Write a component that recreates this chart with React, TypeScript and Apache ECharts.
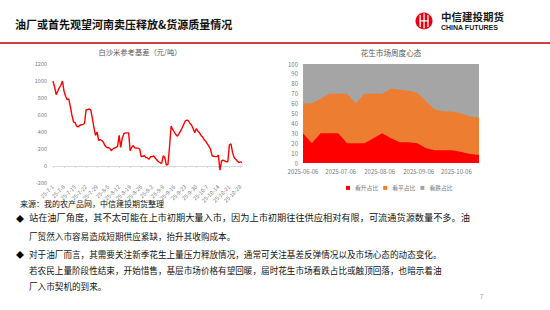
import React, { useEffect, useRef } from "react";
import * as echarts from "echarts";

const FONT = '"Noto Sans CJK SC", "Noto Sans", sans-serif';

// 白沙米参考基差（元/吨）, daily from 2025-07-01
const basisStartYear = 2025;
const basisStartMonth = 7;
const basisStartDay = 1;
const basisValues: number[] = [
  1000, 930, 840, 880, 920, 950, 1000, 880, 820, 780,
  790, 700, 600, 520, 510, 470, 460, 480, 485, 490,
  500, 660, 665, 670, 660, 560, 450, 360, 400, 300,
  310, 300, 280, 240, 220, 215, 210, 180, 200, 210,
  220, 230, 360, 220, 330, 380, 390, 390, 390, 180,
  220, 240, 210, 210, 210, 200, 110, 115, 120, 100,
  95, 80, 110, 110, 120, 90, 70, 50, 40, 30,
  120, 100, 10, 20, 230, 470, 430, 400, 370, 350,
  380, 410, 450, 490, 530, 540, 530, 500, 480, 440,
  390, 440, 410, 390, 360, 340, 310, 290, 260, 230,
  200, 120, 115, 110, 110, 130, -50, 60, 70, 60,
  50, 50, 250, 260, 160, 100, 80, 60, 40, 50,
  40,
];
const basisYMin = -200;
const basisYMax = 1200;
const basisYStep = 200;

// 花生市场周度心态 (weekly)
const moodDates: string[] = [
  "2025-06-06", "2025-06-13", "2025-06-20", "2025-06-27", "2025-07-04",
  "2025-07-11", "2025-07-18", "2025-07-25", "2025-08-01", "2025-08-08",
  "2025-08-15", "2025-08-22", "2025-08-29", "2025-09-05", "2025-09-12",
  "2025-09-19", "2025-09-26", "2025-10-03", "2025-10-10", "2025-10-17",
  "2025-10-24",
];
const moodUp: number[] = [30, 20, 30, 30, 30, 20, 20, 20, 25, 30, 25, 21, 21, 20, 15, 13, 13, 13, 11, 9, 8];
const moodFlat: number[] = [30, 40, 35, 40, 40, 50, 40, 50, 45, 40, 50, 53, 52, 51, 47, 41, 39, 39, 39, 38, 38];
const moodDown: number[] = [40, 40, 35, 30, 30, 30, 40, 30, 30, 30, 25, 26, 27, 29, 38, 46, 48, 48, 50, 53, 54];
const moodTickDates: string[] = ["2025-06-06", "2025-07-06", "2025-08-06", "2025-09-06", "2025-10-06"];
const moodNames: string[] = ["看升占比", "看平占比", "看跌占比"];
const moodColors: string[] = ["#FF0000", "#ED7D31", "#A5A5A5"];

const pageTitle = "油厂或首先观望河南卖压释放&货源质量情况";
const sourceText = "来源：我的农产品网，中信建投期货整理";
const bodyLines: string[] = [
  "站在油厂角度，其不太可能在上市初期大量入市，因为上市初期往往供应相对有限，可流通货源数量不多。油",
  "厂贸然入市容易造成短期供应紧缺，抬升其收购成本。",
  "对于油厂而言，其需要关注新季花生上量压力释放情况，通常可关注基差反弹情况以及市场心态的动态变化。",
  "若农民上量阶段性结束，开始惜售，基层市场价格有望回暖，届时花生市场看跌占比或触顶回落，也暗示着油",
  "厂入市契机的到来。",
];

function ts(d: string): number {
  const [y, m, day] = d.split("-").map(Number);
  return new Date(y, m - 1, day).getTime();
}
function fmt(v: number): string {
  const d = new Date(v);
  const p = (n: number) => (n < 10 ? "0" + n : "" + n);
  return `${d.getFullYear()}-${p(d.getMonth() + 1)}-${p(d.getDate())}`;
}

const basisLabels = basisValues.map((_, i) => {
  const d = new Date(basisStartYear, basisStartMonth - 1, basisStartDay + i);
  return `${d.getFullYear() % 100}-${d.getMonth() + 1}-${d.getDate()}`;
});

// cumulative layers of the 100% stacked area (bottom → top)
const moodLayers = [moodUp, moodFlat, moodDown];
const moodCumulative = moodLayers.map((_, k) =>
  moodDates.map((_, i) => moodLayers.slice(0, k + 1).reduce((s, arr) => s + arr[i], 0))
);

function txt(text: string, x: number, y: number, size: number, fill: string, extra: any = {}, styleExtra: any = {}) {
  return {
    type: "text",
    x,
    y,
    silent: true,
    ...extra,
    style: {
      text,
      x: 0,
      y: 0,
      fill,
      fontSize: size,
      fontFamily: FONT,
      textVerticalAlign: "middle",
      verticalAlign: "middle",
      ...styleExtra,
    },
  };
}

export default function App() {
  const ref = useRef<HTMLDivElement>(null);
  useEffect(() => {
    document.body.style.margin = "0";
    const chart = echarts.init(ref.current!, null, { renderer: "svg" });
    const axisGray = "#7a7a7a";
    const moodSeries = [2, 1, 0].map((k) => ({
      name: moodNames[k],
      type: "line",
      xAxisIndex: 1,
      yAxisIndex: 1,
      symbol: "none",
      z: 2 + (2 - k),
      data: moodDates.map((d, i) => [ts(d), moodCumulative[k][i]]),
      lineStyle: { width: 0, color: moodColors[k] },
      itemStyle: { color: moodColors[k] },
      areaStyle: { color: moodColors[k], opacity: 1, origin: "start" },
    }));
    const option: any = {
      animation: false,
      backgroundColor: "#ffffff",
      textStyle: { fontFamily: FONT },
      grid: [
        { left: 53, top: 64, width: 189, height: 119 },
        { left: 303, top: 64, width: 176, height: 99 },
      ],
      xAxis: [
        {
          gridIndex: 0,
          type: "category",
          data: basisLabels,
          boundaryGap: false,
          axisLine: { onZero: true, lineStyle: { color: "#d9d9d9", width: 1 } },
          axisTick: { interval: 6, length: 2, lineStyle: { color: "#d9d9d9" } },
          axisLabel: { interval: 6, rotate: 45, fontSize: 5.5, color: axisGray, margin: 3 },
          splitLine: { show: false },
        },
        {
          gridIndex: 1,
          type: "value",
          scale: true,
          min: ts(moodDates[0]),
          max: ts(moodDates[moodDates.length - 1]),
          axisLine: { show: false },
          axisTick: { show: false },
          splitLine: { show: false },
          axisLabel: {
            customValues: moodTickDates.map(ts),
            formatter: (v: number) => fmt(v),
            fontSize: 6,
            color: axisGray,
            margin: 5,
            hideOverlap: false,
          },
        },
      ],
      yAxis: [
        {
          gridIndex: 0,
          type: "value",
          min: basisYMin,
          max: basisYMax,
          interval: basisYStep,
          axisLine: { show: false },
          axisTick: { show: false },
          splitLine: { show: false },
          axisLabel: { fontSize: 5.5, color: axisGray, margin: 6, formatter: (v: number) => String(v) },
        },
        {
          gridIndex: 1,
          type: "value",
          min: 0,
          max: 100,
          interval: 10,
          axisLine: { show: false },
          axisTick: { show: false },
          splitLine: { show: false },
          axisLabel: { fontSize: 6, color: axisGray, margin: 5, formatter: (v: number) => String(v) },
        },
      ],
      legend: {
        data: moodNames,
        left: 341,
        top: 180,
        icon: "rect",
        itemWidth: 4,
        itemHeight: 4,
        itemGap: 5,
        textStyle: { fontSize: 5.8, color: axisGray, fontFamily: FONT },
      },
      series: [
        {
          name: "白沙米参考基差",
          type: "line",
          xAxisIndex: 0,
          yAxisIndex: 0,
          data: basisValues,
          symbol: "none",
          lineStyle: { color: "#FF0000", width: 1.4 },
          itemStyle: { color: "#FF0000" },
        },
        ...moodSeries,
      ],
      graphic: [
        txt(pageTitle, 15, 24, 11, "#111111", {}, { fontWeight: "bold" }),
        {
          type: "line",
          silent: true,
          shape: { x1: 0, y1: 43, x2: 550, y2: 43 },
          style: { stroke: "#C00000", lineWidth: 1.5 },
        },
        {
          type: "circle",
          silent: true,
          shape: { cx: 424, cy: 21, r: 8.5 },
          style: { fill: "#E60012" },
        },
        { type: "rect", silent: true, shape: { x: 419.5, y: 15, width: 1.3, height: 12 }, style: { fill: "#fff" } },
        { type: "rect", silent: true, shape: { x: 423.4, y: 13.5, width: 1.3, height: 15 }, style: { fill: "#fff" } },
        { type: "rect", silent: true, shape: { x: 427.3, y: 15, width: 1.3, height: 12 }, style: { fill: "#fff" } },
        { type: "rect", silent: true, shape: { x: 419.5, y: 20.3, width: 9, height: 1.2 }, style: { fill: "#fff" } },
        txt("中信建投期货", 441, 16, 10.5, "#1a1a1a", {}, { fontWeight: "bold" }),
        txt("CHINA FUTURES", 441, 27.5, 7, "#1a1a1a", {}, { fontWeight: "bold", fontFamily: '"Liberation Sans", Arial, sans-serif' }),
        txt("白沙米参考基差（元/吨）", 140, 52, 7.3, "#595959", {}, { textAlign: "center", align: "center" }),
        txt("花生市场周度心态", 391, 52, 7.6, "#595959", {}, { textAlign: "center", align: "center" }),
        txt(sourceText, 20, 203, 8, "#111111"),
        txt("◆", 16, 218, 8, "#000000"),
        txt(bodyLines[0], 29, 218, 8.6, "#111111", { scaleX: 1.07 }),
        txt(bodyLines[1], 29, 236, 8.6, "#111111"),
        txt("◆", 16, 254, 8, "#000000"),
        txt(bodyLines[2], 29, 254, 8.6, "#111111"),
        txt(bodyLines[3], 29, 270, 8.6, "#111111"),
        txt(bodyLines[4], 29, 286, 8.6, "#111111"),
        txt("7", 480, 296, 6, "#999999"),
      ],
    };
    chart.setOption(option);
    return () => chart.dispose();
  }, []);
  return (
    <div
      ref={ref}
      style={{ position: "absolute", left: 0, top: 0, width: 550, height: 310 }}
    />
  );
}
